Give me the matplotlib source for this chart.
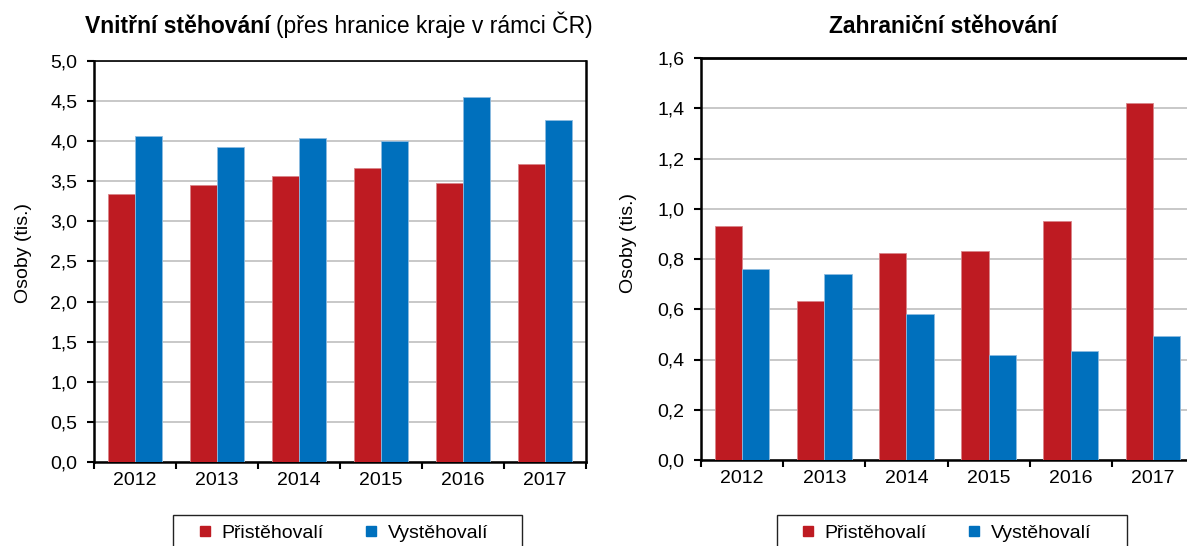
import matplotlib
matplotlib.use("Agg")
import matplotlib.pyplot as plt
import numpy as np
from matplotlib.lines import Line2D
from matplotlib.patches import Rectangle
from matplotlib.ticker import FuncFormatter, FixedLocator

plt.rcParams['font.family'] = ['Liberation Sans', 'DejaVu Sans']

years = ["2012", "2013", "2014", "2015", "2016", "2017"]
vnitrni_prist = [3.34, 3.46, 3.57, 3.67, 3.48, 3.71]
vnitrni_vyst = [4.07, 3.93, 4.04, 4.00, 4.55, 4.26]
zahr_prist = [0.932, 0.633, 0.823, 0.831, 0.952, 1.421]
zahr_vyst = [0.762, 0.741, 0.580, 0.418, 0.434, 0.494]
series_names = ["Přistěhovalí", "Vystěhovalí"]

RED = "#BE1B22"
BLUE = "#0070BD"
FS = 14
TFS = 16.5
W, H = 1187, 546
fig = plt.figure(figsize=(W / 100, H / 100), dpi=100)


def px_axes(l, t, r, b):
    return fig.add_axes([l / W, 1 - b / H, (r - l) / W, (b - t) / H])


def style(ax, a, b, ymax, step, lab_x, lab_y):
    x = np.arange(len(years))
    bw = 1 / 3
    ax.bar(x - bw / 2, a, bw, color=RED, edgecolor="#D9868A", linewidth=0.6, zorder=3)
    ax.bar(x + bw / 2, b, bw, color=BLUE, edgecolor="#8DBBE0", linewidth=0.6, zorder=3)
    ax.set_xlim(-0.5, len(years) - 0.5)
    ax.set_ylim(0, ymax)
    ticks = np.round(np.arange(0, ymax + step / 2, step), 3)
    ax.set_yticks(ticks)
    ax.yaxis.set_major_formatter(FuncFormatter(lambda v, p: f"{v:.1f}".replace(".", ",")))
    ax.xaxis.set_major_locator(FixedLocator(np.arange(-0.5, len(years), 1.0)))
    ax.xaxis.set_minor_locator(FixedLocator(x))
    ax.set_xticklabels([])
    ax.set_xticklabels(years, minor=True)
    ax.tick_params(axis="x", which="major", length=5, width=1.5, direction="out")
    ax.tick_params(axis="x", which="minor", length=0, pad=7, labelsize=FS, colors="black")
    ax.tick_params(axis="y", length=5, width=1.5, direction="out", labelsize=FS, pad=7)
    ax.yaxis.grid(True, color="#C8C8C8", linewidth=1.4, zorder=0)
    ax.set_axisbelow(True)
    for s in ["left", "bottom", "top", "right"]:
        ax.spines[s].set_linewidth(1.8)
        ax.spines[s].set_color("black")
    ax.spines["top"].set_linewidth(1.2)
    ax.set_ylabel("Osoby (tis.)", fontsize=FS)
    ax.yaxis.set_label_coords(lab_x, lab_y)


ax1 = px_axes(94, 61, 586, 462)
style(ax1, vnitrni_prist, vnitrni_vyst, 5.0, 0.5, -0.126, 0.52)
ax2 = px_axes(701, 58, 1194, 460)
style(ax2, zahr_prist, zahr_vyst, 1.6, 0.2, -0.130, 0.54)
ax2.spines["top"].set_linewidth(2.0)

# titles
t1 = fig.text(85 / W, 1 - 33 / H, "Vnitřní stěhování", fontsize=TFS, fontweight="bold",
              ha="left", va="baseline")
fig.canvas.draw()
ext = t1.get_window_extent()
fig.text((ext.x1 + 5) / W, 1 - 33 / H, "(přes hranice kraje v rámci ČR)", fontsize=TFS,
         ha="left", va="baseline")
fig.text(943 / W, 1 - 33 / H, "Zahraniční stěhování", fontsize=TFS, fontweight="bold",
         ha="center", va="baseline")

# legends (frame drawn as a box open at the bottom edge of the figure)
handles = [Line2D([], [], marker="s", linestyle="none", markersize=7.3, color=RED),
           Line2D([], [], marker="s", linestyle="none", markersize=7.3, color=BLUE)]
for box_l, box_r, anchor_x in ((173, 522, 198), (777, 1127, 801)):
    fig.patches.append(Rectangle((box_l / W, 1 - 560 / H), (box_r - box_l) / W, 45 / H,
                                 transform=fig.transFigure, fill=False,
                                 edgecolor="#222222", linewidth=1.0))
    fig.legend(handles, series_names, loc="center left",
               bbox_to_anchor=(anchor_x / W, 1 - 533 / H), ncol=2, fontsize=FS,
               frameon=False, handlelength=0.7, handletextpad=0.5,
               columnspacing=2.1, borderpad=0, borderaxespad=0)

fig.savefig("out.png", dpi=100)
